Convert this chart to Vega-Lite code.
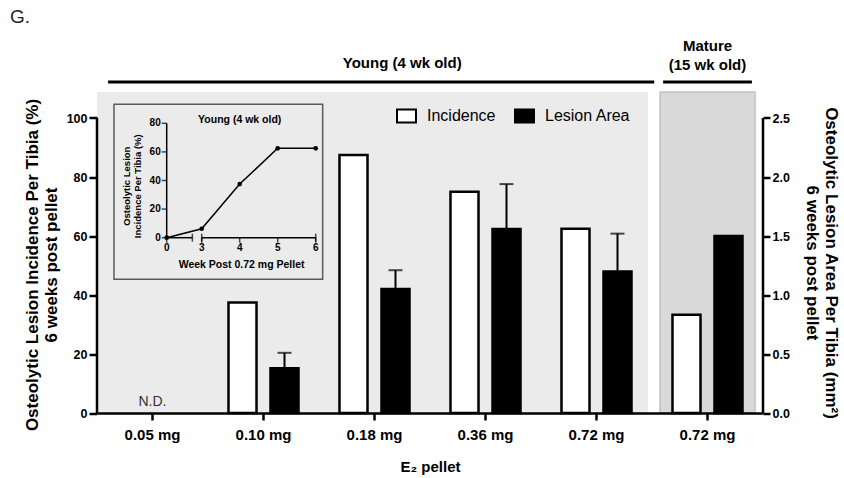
{
  "$schema": "https://vega.github.io/schema/vega-lite/v6.json",
  "width": 666,
  "height": 383.5,
  "autosize": "none",
  "padding": {"left": 97, "top": 29.5, "right": 81, "bottom": 65},
  "config": {
    "font": "Liberation Sans",
    "view": {"stroke": null},
    "axis": {"domainColor": "black", "tickColor": "black", "labelColor": "black", "titleColor": "black", "grid": false, "labelFont": "Liberation Sans", "titleFont": "Liberation Sans"}
  },
  "datasets": {
    "bars": [
      {"group": "Y|0.10 mg", "measure": "Incidence", "value": 37.5},
      {"group": "Y|0.18 mg", "measure": "Incidence", "value": 87.5},
      {"group": "Y|0.36 mg", "measure": "Incidence", "value": 75},
      {"group": "Y|0.72 mg", "measure": "Incidence", "value": 62.5},
      {"group": "M|0.72 mg", "measure": "Incidence", "value": 33.3},
      {"group": "Y|0.10 mg", "measure": "Lesion Area", "value": 0.38, "upper": 0.51},
      {"group": "Y|0.18 mg", "measure": "Lesion Area", "value": 1.05, "upper": 1.21},
      {"group": "Y|0.36 mg", "measure": "Lesion Area", "value": 1.56, "upper": 1.94},
      {"group": "Y|0.72 mg", "measure": "Lesion Area", "value": 1.2, "upper": 1.52},
      {"group": "M|0.72 mg", "measure": "Lesion Area", "value": 1.5}
    ],
    "regions": [
      {"region": "Young", "x1": 0, "x2": 4.964, "y1": 0, "y2": 108.8},
      {"region": "Mature", "x1": 5.072, "x2": 5.928, "y1": 0, "y2": 108.8}
    ],
    "inset_box": [{"x1": 0.153, "x2": 2.033, "y1": 45.3, "y2": 104.7}],
    "axis_lines": [{"x": 0, "y1": 0, "y2": 100}, {"x": 6, "y1": 0, "y2": 100}],
    "brackets": [{"x1": 0.1, "x2": 5.02, "y": 112.2}, {"x1": 5.1, "x2": 5.9, "y": 112.2}],
    "top_labels": [
      {"text": "Young (4 wk old)", "x": 2.75, "y": 118.6},
      {"text": "Mature", "x": 5.5, "y": 124.4},
      {"text": "(15 wk old)", "x": 5.5, "y": 117.9}
    ],
    "nd": [{"text": "N.D.", "x": 0.5, "y": 3.8}],
    "panel": [{"text": "G.", "x": -0.694, "y": 134.2}],
    "inset_points": [
      {"week": 0, "pct": 0},
      {"week": 3, "pct": 6.25},
      {"week": 4, "pct": 37.5},
      {"week": 5, "pct": 62.5},
      {"week": 6, "pct": 62.5}
    ],
    "inset_axes": [
      {"x1": 0, "x2": 0, "y1": 0, "y2": 80},
      {"x1": 0, "x2": 2.2, "y1": 0, "y2": 0},
      {"x1": 3, "x2": 6, "y1": 0, "y2": 0}
    ],
    "inset_yticks": [{"v": 0}, {"v": 20}, {"v": 40}, {"v": 60}, {"v": 80}],
    "inset_xticks": [{"w": 0}, {"w": 3}, {"w": 4}, {"w": 5}, {"w": 6}],
    "inset_caps": [{"w": 2.2}, {"w": 3}, {"w": 6}],
    "inset_texts": [
      {"text": "Young (4 wk old)", "x": 4.0, "y": 82.3},
      {"text": "Week Post 0.72 mg Pellet", "x": 4.05, "y": -19}
    ],
    "inset_ytitle": [{"text": ["Osteolytic Lesion", "Incidence Per Tibia (%)"], "x": -3.4, "y": 36}]
  },
  "layer": [
    {
      "layer": [
        {
          "data": {"name": "regions"},
          "mark": {"type": "rect"},
          "encoding": {
            "x": {"field": "x1", "type": "quantitative", "scale": {"domain": [0, 6], "nice": false, "zero": false}, "axis": null},
            "x2": {"field": "x2"},
            "y": {"field": "y1", "type": "quantitative", "scale": {"domain": [0, 130], "nice": false, "zero": false}, "axis": null},
            "y2": {"field": "y2"},
            "fill": {"condition": {"test": "datum.region === 'Mature'", "value": "#d9d9d9"}, "value": "#ebebeb"},
            "stroke": {"condition": {"test": "datum.region === 'Mature'", "value": "#c2c2c2"}, "value": null},
            "strokeWidth": {"value": 1.5}
          }
        },
        {
          "data": {"name": "inset_box"},
          "mark": {"type": "rect", "fill": null, "stroke": "#5a5a5a", "strokeWidth": 1.5},
          "encoding": {
            "x": {"field": "x1", "type": "quantitative", "scale": {"domain": [0, 6], "nice": false, "zero": false}, "axis": null},
            "x2": {"field": "x2"},
            "y": {"field": "y1", "type": "quantitative", "scale": {"domain": [0, 130], "nice": false, "zero": false}, "axis": null},
            "y2": {"field": "y2"}
          }
        },
        {
          "data": {"name": "axis_lines"},
          "mark": {"type": "rule", "color": "black", "strokeWidth": 2.5},
          "encoding": {
            "x": {"field": "x", "type": "quantitative", "scale": {"domain": [0, 6], "nice": false, "zero": false}, "axis": null},
            "y": {"field": "y1", "type": "quantitative", "scale": {"domain": [0, 130], "nice": false, "zero": false}, "axis": null},
            "y2": {"field": "y2"}
          }
        },
        {
          "data": {"name": "brackets"},
          "mark": {"type": "rule", "color": "black", "strokeWidth": 3},
          "encoding": {
            "x": {"field": "x1", "type": "quantitative", "scale": {"domain": [0, 6], "nice": false, "zero": false}, "axis": null},
            "x2": {"field": "x2"},
            "y": {"field": "y", "type": "quantitative", "scale": {"domain": [0, 130], "nice": false, "zero": false}, "axis": null}
          }
        },
        {
          "data": {"name": "top_labels"},
          "mark": {"type": "text", "font": "Liberation Sans", "fontSize": 15, "fontWeight": "bold", "color": "black", "align": "center", "baseline": "middle"},
          "encoding": {
            "x": {"field": "x", "type": "quantitative", "scale": {"domain": [0, 6], "nice": false, "zero": false}, "axis": null},
            "y": {"field": "y", "type": "quantitative", "scale": {"domain": [0, 130], "nice": false, "zero": false}, "axis": null},
            "text": {"field": "text"}
          }
        },
        {
          "data": {"name": "nd"},
          "mark": {"type": "text", "font": "Liberation Sans", "fontSize": 14, "color": "#333333", "align": "center", "baseline": "middle"},
          "encoding": {
            "x": {"field": "x", "type": "quantitative", "scale": {"domain": [0, 6], "nice": false, "zero": false}, "axis": null},
            "y": {"field": "y", "type": "quantitative", "scale": {"domain": [0, 130], "nice": false, "zero": false}, "axis": null},
            "text": {"field": "text"}
          }
        },
        {
          "data": {"name": "panel"},
          "mark": {"type": "text", "font": "Liberation Sans", "fontSize": 19, "color": "#222222", "align": "center", "baseline": "middle"},
          "encoding": {
            "x": {"field": "x", "type": "quantitative", "scale": {"domain": [0, 6], "nice": false, "zero": false}, "axis": null},
            "y": {"field": "y", "type": "quantitative", "scale": {"domain": [0, 130], "nice": false, "zero": false}, "axis": null},
            "text": {"field": "text"}
          }
        }
      ]
    },
    {
      "data": {"name": "bars"},
      "transform": [{"filter": "datum.measure === 'Incidence'"}],
      "mark": {"type": "bar", "stroke": "black", "strokeWidth": 2.5},
      "encoding": {
        "x": {
          "field": "group", "type": "nominal", "sort": null,
          "scale": {"domain": ["Y|0.05 mg", "Y|0.10 mg", "Y|0.18 mg", "Y|0.36 mg", "Y|0.72 mg", "M|0.72 mg"], "paddingInner": 0, "paddingOuter": 0},
          "axis": {"labelExpr": "split(datum.label, '|')[1]", "labelAngle": 0, "labelFontSize": 15, "labelFontWeight": "bold", "labelPadding": 7, "tickSize": 7, "tickWidth": 2.5, "domainWidth": 2.5, "title": "E₂ pellet", "titleFontSize": 15, "titleFontWeight": "bold", "titlePadding": 17, "zindex": 1}
        },
        "xOffset": {"field": "measure", "type": "nominal", "scale": {"domain": ["Incidence", "Lesion Area"], "paddingInner": 0.333, "paddingOuter": 0.488}},
        "y": {
          "field": "value", "type": "quantitative",
          "scale": {"domain": [0, 130], "nice": false, "zero": false},
          "axis": {"orient": "left", "values": [0, 20, 40, 60, 80, 100], "domain": false, "tickSize": 8, "tickWidth": 2.5, "labelFontSize": 12.5, "labelFontWeight": "bold", "labelPadding": 2, "title": ["Osteolytic Lesion Incidence Per Tibia (%)", "6 weeks post pellet"], "titleFontSize": 17, "titleFontWeight": "bold", "titlePadding": 6, "titleY": 235, "zindex": 1}
        },
        "fill": {
          "field": "measure", "type": "nominal",
          "scale": {"domain": ["Incidence", "Lesion Area"], "range": ["white", "black"]},
          "legend": {"orient": "none", "legendX": 299, "legendY": 76, "direction": "horizontal", "title": null, "symbolType": "M-1,-0.684H1V0.684H-1Z", "symbolSize": 361, "symbolStrokeColor": "black", "symbolStrokeWidth": 2, "labelFont": "Liberation Sans", "labelFontSize": 16, "labelColor": "black", "labelOffset": 10, "columnPadding": 15}
        }
      }
    },
    {
      "data": {"name": "bars"},
      "transform": [{"filter": "datum.measure === 'Lesion Area'"}],
      "layer": [
        {
          "mark": {"type": "bar", "stroke": "black", "strokeWidth": 2.5},
          "encoding": {
            "fill": {
              "field": "measure", "type": "nominal",
              "scale": {"domain": ["Incidence", "Lesion Area"], "range": ["white", "black"]},
              "legend": {"orient": "none", "legendX": 299, "legendY": 76, "direction": "horizontal", "title": null, "symbolType": "M-1,-0.684H1V0.684H-1Z", "symbolSize": 361, "symbolStrokeColor": "black", "symbolStrokeWidth": 2, "labelFont": "Liberation Sans", "labelFontSize": 16, "labelColor": "black", "labelOffset": 10, "columnPadding": 15}
            }
          }
        },
        {
          "transform": [{"filter": "isValid(datum.upper)"}],
          "mark": {"type": "rule", "color": "black", "strokeWidth": 2},
          "encoding": {"y2": {"field": "upper"}}
        },
        {
          "transform": [{"filter": "isValid(datum.upper)"}],
          "mark": {"type": "tick", "orient": "horizontal", "color": "black", "size": 14, "thickness": 2},
          "encoding": {"y": {"field": "upper", "type": "quantitative", "scale": {"domain": [0, 3.25], "nice": false, "zero": false}}}
        }
      ],
      "encoding": {
        "x": {
          "field": "group", "type": "nominal", "sort": null,
          "scale": {"domain": ["Y|0.05 mg", "Y|0.10 mg", "Y|0.18 mg", "Y|0.36 mg", "Y|0.72 mg", "M|0.72 mg"], "paddingInner": 0, "paddingOuter": 0},
          "axis": null
        },
        "xOffset": {"field": "measure", "type": "nominal", "scale": {"domain": ["Incidence", "Lesion Area"], "paddingInner": 0.333, "paddingOuter": 0.488}},
        "y": {
          "field": "value", "type": "quantitative",
          "scale": {"domain": [0, 3.25], "nice": false, "zero": false},
          "axis": {"orient": "right", "values": [0, 0.5, 1, 1.5, 2, 2.5], "format": ".1f", "domain": false, "tickSize": 7, "tickWidth": 2.5, "labelFontSize": 12.5, "labelFontWeight": "bold", "labelPadding": 2, "title": ["Osteolytic Lesion Area Per Tibia (mm²)", "6 weeks post pellet"], "titleFontSize": 17, "titleFontWeight": "bold", "titlePadding": 13, "titleY": 233, "zindex": 1}
        }
      }
    },
    {
      "layer": [
        {
          "data": {"name": "inset_axes"},
          "mark": {"type": "rule", "color": "black", "strokeWidth": 1.5},
          "encoding": {
            "x": {"field": "x1", "type": "quantitative", "scale": {"domain": [0, 3, 6], "range": [69.7, 104.7, 218.7], "nice": false, "zero": false}, "axis": null},
            "x2": {"field": "x2"},
            "y": {"field": "y1", "type": "quantitative", "scale": {"domain": [0, 80], "range": [208.2, 93.8], "nice": false, "zero": false}, "axis": null},
            "y2": {"field": "y2"}
          }
        },
        {
          "data": {"name": "inset_yticks"},
          "mark": {"type": "tick", "orient": "horizontal", "color": "black", "size": 5, "thickness": 1.5, "xOffset": -2.5},
          "encoding": {
            "x": {"datum": 0, "type": "quantitative", "scale": {"domain": [0, 3, 6], "range": [69.7, 104.7, 218.7], "nice": false, "zero": false}, "axis": null},
            "y": {"field": "v", "type": "quantitative", "scale": {"domain": [0, 80], "range": [208.2, 93.8], "nice": false, "zero": false}, "axis": null}
          }
        },
        {
          "data": {"name": "inset_yticks"},
          "mark": {"type": "text", "font": "Liberation Sans", "fontSize": 10, "fontWeight": "bold", "color": "black", "align": "right", "baseline": "middle", "dx": -6},
          "encoding": {
            "x": {"datum": 0, "type": "quantitative", "scale": {"domain": [0, 3, 6], "range": [69.7, 104.7, 218.7], "nice": false, "zero": false}, "axis": null},
            "y": {"field": "v", "type": "quantitative", "scale": {"domain": [0, 80], "range": [208.2, 93.8], "nice": false, "zero": false}, "axis": null},
            "text": {"field": "v", "type": "quantitative"}
          }
        },
        {
          "data": {"name": "inset_xticks"},
          "mark": {"type": "tick", "orient": "vertical", "color": "black", "size": 5, "thickness": 1.5, "yOffset": 2.5},
          "encoding": {
            "x": {"field": "w", "type": "quantitative", "scale": {"domain": [0, 3, 6], "range": [69.7, 104.7, 218.7], "nice": false, "zero": false}, "axis": null},
            "y": {"datum": 0, "type": "quantitative", "scale": {"domain": [0, 80], "range": [208.2, 93.8], "nice": false, "zero": false}, "axis": null}
          }
        },
        {
          "data": {"name": "inset_caps"},
          "mark": {"type": "tick", "orient": "vertical", "color": "black", "size": 8, "thickness": 1.5},
          "encoding": {
            "x": {"field": "w", "type": "quantitative", "scale": {"domain": [0, 3, 6], "range": [69.7, 104.7, 218.7], "nice": false, "zero": false}, "axis": null},
            "y": {"datum": 0, "type": "quantitative", "scale": {"domain": [0, 80], "range": [208.2, 93.8], "nice": false, "zero": false}, "axis": null}
          }
        },
        {
          "data": {"name": "inset_xticks"},
          "mark": {"type": "text", "font": "Liberation Sans", "fontSize": 10, "fontWeight": "bold", "color": "black", "align": "center", "baseline": "top", "dy": 5},
          "encoding": {
            "x": {"field": "w", "type": "quantitative", "scale": {"domain": [0, 3, 6], "range": [69.7, 104.7, 218.7], "nice": false, "zero": false}, "axis": null},
            "y": {"datum": 0, "type": "quantitative", "scale": {"domain": [0, 80], "range": [208.2, 93.8], "nice": false, "zero": false}, "axis": null},
            "text": {"field": "w", "type": "quantitative"}
          }
        },
        {
          "data": {"name": "inset_points"},
          "mark": {"type": "line", "color": "black", "strokeWidth": 1.5, "point": {"filled": true, "color": "black", "size": 22}},
          "encoding": {
            "x": {"field": "week", "type": "quantitative", "scale": {"domain": [0, 3, 6], "range": [69.7, 104.7, 218.7], "nice": false, "zero": false}, "axis": null},
            "y": {"field": "pct", "type": "quantitative", "scale": {"domain": [0, 80], "range": [208.2, 93.8], "nice": false, "zero": false}, "axis": null}
          }
        },
        {
          "data": {"name": "inset_texts"},
          "mark": {"type": "text", "font": "Liberation Sans", "fontSize": 10.5, "fontWeight": "bold", "color": "black", "align": "center", "baseline": "middle"},
          "encoding": {
            "x": {"field": "x", "type": "quantitative", "scale": {"domain": [0, 3, 6], "range": [69.7, 104.7, 218.7], "nice": false, "zero": false}, "axis": null},
            "y": {"field": "y", "type": "quantitative", "scale": {"domain": [0, 80], "range": [208.2, 93.8], "nice": false, "zero": false}, "axis": null},
            "text": {"field": "text"}
          }
        },
        {
          "data": {"name": "inset_ytitle"},
          "mark": {"type": "text", "font": "Liberation Sans", "fontSize": 9.5, "fontWeight": "bold", "color": "black", "align": "center", "baseline": "middle", "angle": 270, "lineHeight": 11},
          "encoding": {
            "x": {"field": "x", "type": "quantitative", "scale": {"domain": [0, 3, 6], "range": [69.7, 104.7, 218.7], "nice": false, "zero": false}, "axis": null},
            "y": {"field": "y", "type": "quantitative", "scale": {"domain": [0, 80], "range": [208.2, 93.8], "nice": false, "zero": false}, "axis": null},
            "text": {"field": "text"}
          }
        }
      ]
    }
  ],
  "resolve": {"scale": {"x": "independent", "y": "independent"}, "axis": {"x": "independent", "y": "independent"}}
}
